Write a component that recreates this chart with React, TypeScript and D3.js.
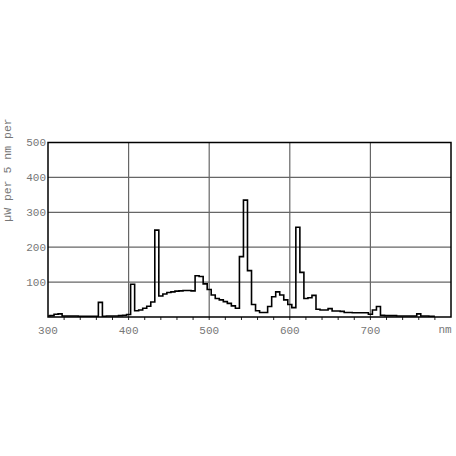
import React from 'react';
import * as d3 from 'd3';

// spectral power, 5 nm bins starting at 300 nm
const binStart = 300;
const binStep = 5;
const power = [
  3, 4, 8, 9, 3, 3, 3, 3, 2, 2, // 300-345
  2, 2, 2, 42, 2, 3, 3, 3, 4, 5, // 350-395
  7, 94, 18, 20, 25, 31, 43, 249, 60, 66, // 400-445
  70, 72, 74, 75, 76, 76, 75, 118, 116, 95, // 450-495
  79, 63, 53, 49, 44, 39, 32, 25, 173, 335, // 500-545
  133, 36, 18, 13, 13, 30, 58, 72, 63, 49, // 550-595
  36, 27, 257, 128, 53, 55, 62, 22, 20, 20, // 600-645
  24, 17, 17, 16, 13, 13, 12, 12, 12, 12, // 650-695
  8, 20, 30, 5, 4, 4, 4, 3, 3, 3, // 700-745
  3, 3, 9, 3, 3, 2, 2 // 750-780
];

const xTicks = [300, 400, 500, 600, 700];
const yTicks = [100, 200, 300, 400, 500];
const minorTicks = d3.range(320, 800, 20);
const yLabel = 'µW per 5 nm per';
const xUnit = 'nm';

const W = 456;
const H = 456;
const plot = { left: 48, right: 451, top: 142.5, bottom: 317 };

export default function App() {
  const x = d3.scaleLinear().domain([300, 800]).range([plot.left, plot.right]);
  const y = d3.scaleLinear().domain([0, 500]).range([plot.bottom, plot.top]);

  const points: [number, number][] = power.map((v, i) => [binStart + i * binStep, v]);
  const line = d3
    .line<[number, number]>()
    .x(d => x(d[0]))
    .y(d => y(d[1]))
    .curve(d3.curveStep);

  const mono = '"Liberation Mono", "DejaVu Sans Mono", monospace';

  return (
    <svg
      width={W}
      height={H}
      style={{ position: 'absolute', left: 0, top: 0, background: '#fff' }}
    >
      {/* grid */}
      {yTicks.slice(0, -1).map(t => (
        <line key={'h' + t} x1={plot.left} x2={plot.right} y1={y(t)} y2={y(t)} stroke="#666" strokeWidth={1.2} />
      ))}
      {xTicks.slice(1).map(t => (
        <line key={'v' + t} x1={x(t)} x2={x(t)} y1={plot.top} y2={plot.bottom} stroke="#666" strokeWidth={1.2} />
      ))}

      {/* minor ticks under the axis */}
      {minorTicks.map(t => (
        <line key={'m' + t} x1={x(t)} x2={x(t)} y1={plot.bottom} y2={plot.bottom + 3} stroke="#222" strokeWidth={1} />
      ))}

      {/* spectrum */}
      <path d={line(points) ?? ''} fill="none" stroke="#000" strokeWidth={1.6} />

      {/* frame */}
      <rect
        x={plot.left}
        y={plot.top}
        width={plot.right - plot.left}
        height={plot.bottom - plot.top}
        fill="none"
        stroke="#000"
        strokeWidth={1.5}
      />

      {/* y tick labels */}
      {yTicks.map(t => (
        <text key={'yl' + t} x={plot.left - 2} y={y(t)} dy="0.35em" textAnchor="end" fontFamily={mono} fontSize={11} fill="#777">
          {t}
        </text>
      ))}

      {/* x tick labels */}
      {xTicks.map(t => (
        <text key={'xl' + t} x={x(t)} y={334} textAnchor="middle" fontFamily={mono} fontSize={11} fill="#777">
          {t}
        </text>
      ))}
      <text x={445} y={333} textAnchor="middle" fontFamily={mono} fontSize={11} fill="#777">
        {xUnit}
      </text>

      <text
        transform="translate(11,170) rotate(-90)"
        textAnchor="middle"
        fontFamily={mono}
        fontSize={11.5}
        fill="#777"
      >
        {yLabel}
      </text>
    </svg>
  );
}
